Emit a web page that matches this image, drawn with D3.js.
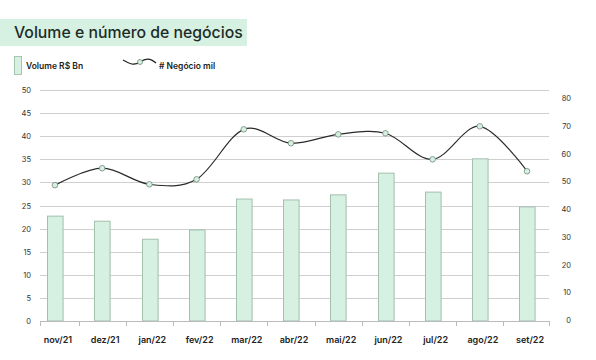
<!DOCTYPE html>
<html><head><meta charset="utf-8">
<script src="https://cdn.jsdelivr.net/npm/d3@7"></script>
<style>body{margin:0;background:#fff}svg{display:block}text{font-family:Inter,"DejaVu Sans",sans-serif}</style>
</head><body><svg id="c" width="596" height="360"></svg>
<script>
const categories = ["nov/21","dez/21","jan/22","fev/22","mar/22","abr/22","mai/22","jun/22","jul/22","ago/22","set/22"];
const volume = [22.7,21.6,17.7,19.7,26.4,26.2,27.3,32.0,27.9,35.1,24.7];
const negocios = [48.6,54.7,48.9,50.7,68.7,63.7,66.9,67.3,57.9,69.8,53.6];
const leftTicks = [0,5,10,15,20,25,30,35,40,45,50];
const rightTicks = [0,10,20,30,40,50,60,70,80];

const svg = d3.select("#c");
const x0 = 33, x1 = 549;
const x = d3.scaleBand().domain(categories).range([x0, x1]).paddingInner(0.67).paddingOuter(0.3);
const yL = d3.scaleLinear().domain([0,50]).range([321,90]);
const yR = d3.scaleLinear().domain([0,80]).range([320,98]);

// title
svg.append("rect").attr("x",0).attr("y",19).attr("width",247).attr("height",27).attr("fill","#d6f0e2");
svg.append("text").attr("x",14).attr("y",38).attr("font-size",15.8).attr("fill","#1d2b27").attr("font-weight",500).text("Volume e número de negócios");

// legend
svg.append("rect").attr("x",14.5).attr("y",56.5).attr("width",7).attr("height",18).attr("fill","#d6f0e2").attr("stroke","#a8c4b2");
svg.append("text").attr("x",26).attr("y",69).attr("font-size",8.5).attr("font-weight",600).attr("fill","#222").text("Volume R$ Bn");
svg.append("path").attr("d","M123,60 C130,64 134,66 140,62 C146,58 150,58 156,63").attr("fill","none").attr("stroke","#222").attr("stroke-width",1.2);
svg.append("circle").attr("cx",140).attr("cy",62).attr("r",2.5).attr("fill","#d6f0e2").attr("stroke","#6f8a7a").attr("stroke-width",0.8);
svg.append("text").attr("x",159).attr("y",69).attr("font-size",8.5).attr("font-weight",600).attr("fill","#222").text("# Negócio mil");

// grid
svg.append("g").selectAll("line").data(leftTicks.slice(1)).join("line")
  .attr("x1",40).attr("x2",x1).attr("y1",d=>Math.round(yL(d))+0.5).attr("y2",d=>Math.round(yL(d))+0.5)
  .attr("stroke","#cfcfcf").attr("stroke-width",1);

// left axis labels
svg.append("g").selectAll("text").data(leftTicks).join("text")
  .attr("x",31).attr("y",d=>yL(d)+3).attr("text-anchor","end").attr("font-size",7.5).attr("fill","#333").text(d=>d);
// right axis labels
svg.append("g").selectAll("text").data(rightTicks).join("text")
  .attr("x",571).attr("y",d=>yR(d)+3).attr("text-anchor","end").attr("font-size",7.5).attr("fill","#333").text(d=>d);

// bars
svg.append("g").selectAll("rect").data(volume).join("rect")
  .attr("x",(d,i)=>Math.round(x(categories[i]))+0.5).attr("width",x.bandwidth())
  .attr("y",d=>yL(d)).attr("height",d=>yL(0)-yL(d))
  .attr("fill","#d6f0e2").attr("stroke","#a3bfae").attr("stroke-width",1);

// x axis
svg.append("line").attr("x1",40).attr("x2",x1).attr("y1",321.5).attr("y2",321.5).attr("stroke","#bbb");
const step = x.step();
const bounds = categories.map((c,i)=> x(c) + x.bandwidth()/2 - step/2).concat([x(categories[categories.length-1]) + x.bandwidth()/2 + step/2]);
svg.append("g").selectAll("line").data(bounds).join("line")
  .attr("x1",d=>Math.round(Math.max(40,Math.min(x1,d)))+0.5).attr("x2",d=>Math.round(Math.max(40,Math.min(x1,d)))+0.5).attr("y1",321).attr("y2",326).attr("stroke","#bbb");
svg.append("g").selectAll("text").data(categories).join("text")
  .attr("x",d=>x(d)+x.bandwidth()/2+3).attr("y",343).attr("text-anchor","middle")
  .attr("font-size",9).attr("font-weight",600).attr("fill","#222").text(d=>d);

// line
const cx = (d,i)=> x(categories[i]) + x.bandwidth()/2;
const line = d3.line().x(cx).y(d=>yR(d)).curve(d3.curveCatmullRom.alpha(0));
svg.append("path").datum(negocios).attr("d",line).attr("fill","none").attr("stroke","#2a2a2a").attr("stroke-width",1.2);
svg.append("g").selectAll("circle").data(negocios).join("circle")
  .attr("cx",cx).attr("cy",d=>yR(d)).attr("r",2.8)
  .attr("fill","#d6f0e2").attr("stroke","#6f8a7a").attr("stroke-width",0.8);
</script></body></html>
